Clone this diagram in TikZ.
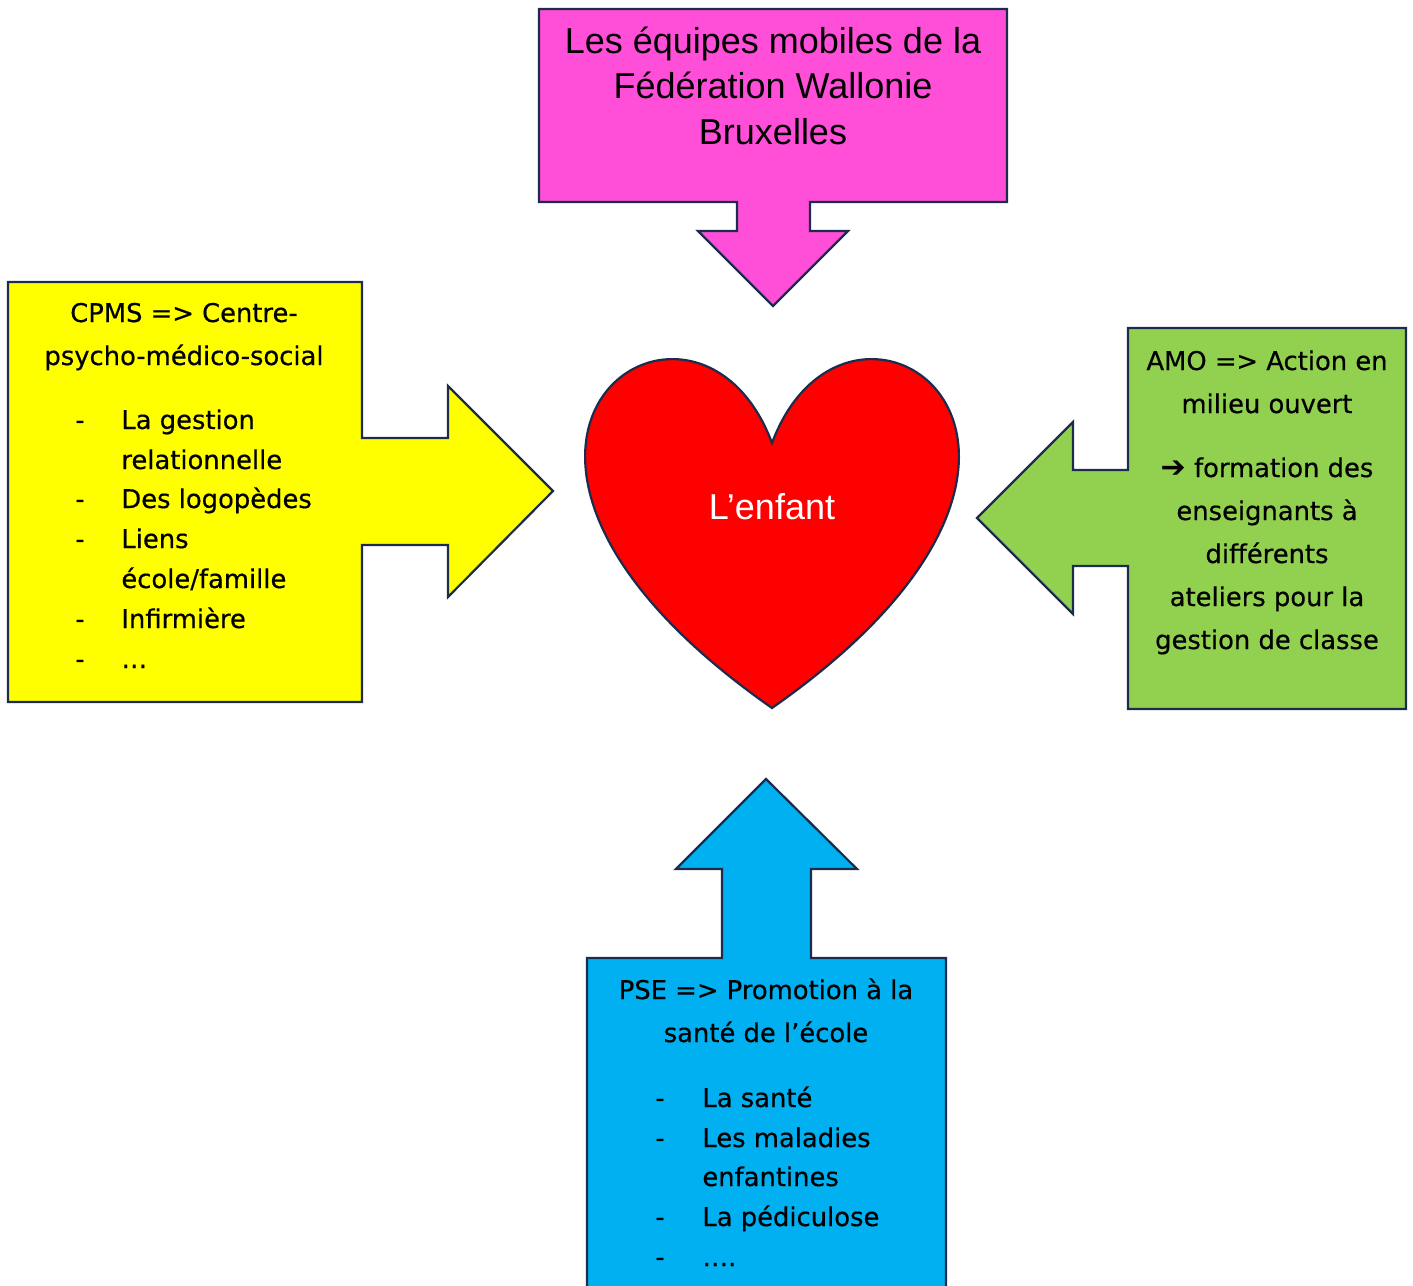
\documentclass[tikz,border=0pt]{standalone}
\usepackage{fontspec}
\setmainfont{Liberation Sans}
\newfontfamily\comicfont[FakeBold=0.5]{DejaVu Sans}
\newfontfamily\arrowfont{DejaVu Sans}
\definecolor{outlineC}{HTML}{1C2C4C}
\definecolor{magentaC}{HTML}{FF4FD8}
\definecolor{yellowC}{HTML}{FFFF00}
\definecolor{greenC}{HTML}{92D050}
\definecolor{blueC}{HTML}{00B0F0}
\definecolor{redC}{HTML}{FF0000}
\begin{document}
\begin{tikzpicture}[x=0.5pt,y=-0.5pt,
  shapeline/.style={draw=outlineC, line width=1.1pt, line join=miter},
  arialtxt/.style={anchor=base, inner sep=0pt, font=\fontsize{18}{22}\selectfont},
  comictxt/.style={anchor=base, inner sep=0pt, font=\comicfont\fontsize{12.9}{15}\selectfont},
  comicleft/.style={comictxt, anchor=base west},
]
\useasboundingbox (0,0) rectangle (1413,1285);

% top callout (magenta)
\path[shapeline, fill=magentaC] (539,9) -- (1007,9) -- (1007,202) -- (810,202) -- (810,231)
  -- (848,231) -- (773,306) -- (698,231) -- (737,231) -- (737,202) -- (539,202) -- cycle;
\foreach \y/\t [count=\i] in {53/{Les équipes mobiles de la}, 98/{Fédération Wallonie}, 144/{Bruxelles}}
  \node[arialtxt] (top\i) at (773,\y) {\t};

% left callout (yellow)
\path[shapeline, fill=yellowC] (8,282) -- (362,282) -- (362,438) -- (448,438) -- (448,386)
  -- (553,491) -- (448,597) -- (448,545) -- (362,545) -- (362,702) -- (8,702) -- cycle;
\foreach \y/\t [count=\i] in {322/{CPMS => Centre-}, 365/{psycho-médico-social}}
  \node[comictxt] (lefth\i) at (184,\y) {\t};
\foreach \y/\t [count=\i] in {429/{La gestion}, 469/{relationnelle}, 508/{Des logopèdes}, 548/{Liens}, 588/{école/famille}, 628/{Infirmière}, 668/{…}}
  \node[comicleft] (leftl\i) at (121,\y) {\t};
\foreach \y [count=\i] in {429,508,548,628,668}
  \node[comictxt] (leftd\i) at (80,\y) {-};

% right callout (green)
\path[shapeline, fill=greenC] (1128,328) -- (1406,328) -- (1406,709) -- (1128,709) -- (1128,566)
  -- (1073,566) -- (1073,614) -- (977,518) -- (1073,422) -- (1073,470) -- (1128,470) -- cycle;
\foreach \y/\t [count=\i] in {370/{AMO => Action en}, 413/{milieu ouvert}, 477/{{\arrowfont\bfseries\fontsize{15}{15}\selectfont ➔} formation des}, 520/{enseignants à}, 563/{différents}, 606/{ateliers pour la}, 649/{gestion de classe}}
  \node[comictxt] (right\i) at (1267,\y) {\t};

% bottom callout (blue)
\path[shapeline, fill=blueC] (587,1300) -- (587,958) -- (722,958) -- (722,869) -- (676,869)
  -- (766,779) -- (857,869) -- (811,869) -- (811,958) -- (946,958) -- (946,1300) -- cycle;
\foreach \y/\t [count=\i] in {999/{PSE => Promotion à la}, 1042/{santé de l’école}}
  \node[comictxt] (both\i) at (766,\y) {\t};
\foreach \y/\t [count=\i] in {1107/{La santé}, 1147/{Les maladies}, 1186/{enfantines}, 1226/{La pédiculose}, 1266/{….}}
  \node[comicleft] (botl\i) at (702,\y) {\t};
\foreach \y [count=\i] in {1107,1147,1226,1266}
  \node[comictxt] (botd\i) at (660,\y) {-};

% heart
\path[shapeline, fill=redC] (772,443) .. controls (849,237) and (1151,443) .. (772,708)
  .. controls (393,443) and (695,237) .. (772,443) -- cycle;
\node[arialtxt, text=white] (enfant) at (772,519) {L’enfant};
\end{tikzpicture}
\end{document}
